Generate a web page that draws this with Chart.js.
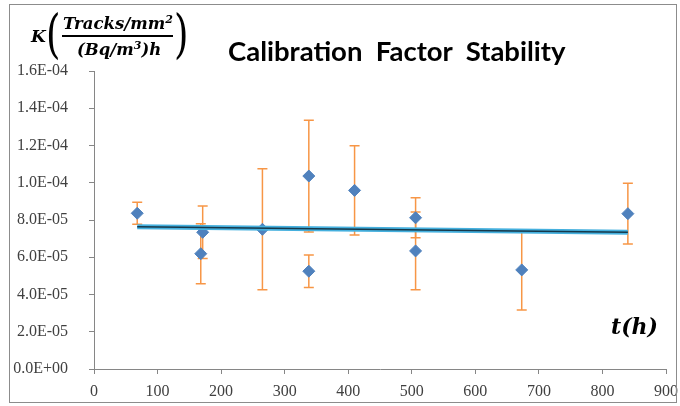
<!DOCTYPE html>
<html><head><meta charset="utf-8">
<script src="https://cdn.jsdelivr.net/npm/chart.js@4"></script>
<style>
html,body{margin:0;padding:0;background:#fff;}
#wrap{position:relative;width:680px;height:406px;overflow:hidden;}
canvas{position:absolute;left:0;top:0;}
.m{position:absolute;font-family:"DejaVu Serif",serif;font-weight:bold;font-style:italic;color:#000;white-space:nowrap;line-height:1;}
.p{position:absolute;font-family:"DejaVu Serif",serif;font-weight:normal;color:#000;line-height:1;}
#title{position:absolute;left:228px;top:37px;font-family:Lato,"Open Sans",sans-serif;font-weight:bold;font-size:27.5px;white-space:pre;color:#000;line-height:1;}
</style></head><body>
<div id="wrap">
<canvas id="c" width="680" height="406"></canvas>
<div id="title">Calibration  Factor  Stability</div>
<div class="m" style="left:31px;top:28px;font-size:17px;">K</div>
<div class="p" style="left:46px;top:7px;font-size:53px;transform:scaleX(0.7);transform-origin:left top;">(</div>
<div class="m" style="left:63px;top:14px;font-size:16.5px;">Tracks/mm<sup style="font-size:11px;vertical-align:6px;">2</sup></div>
<div style="position:absolute;left:62px;top:35px;width:111px;height:1.5px;background:#000;"></div>
<div class="m" style="left:77px;top:40px;font-size:16.5px;">(Bq/m<sup style="font-size:11px;vertical-align:6px;">3</sup>)h</div>
<div class="p" style="left:174px;top:7px;font-size:53px;transform:scaleX(0.7);transform-origin:left top;">)</div>
<div class="m" style="left:611px;top:315px;font-size:22px;">t(h)</div>
</div>
<script>
// ---- data ----
const timesH  = [68, 171, 168, 265, 338, 338, 410, 506, 506, 673, 840];
const kValues = [8.36e-5, 7.34e-5, 6.19e-5, 7.50e-5, 1.036e-4, 5.25e-5, 9.59e-5, 8.12e-5, 6.34e-5, 5.32e-5, 8.34e-5];
const kErrors = [0.59e-5, 1.41e-5, 1.61e-5, 3.25e-5, 3.0e-5, 0.87e-5, 2.4e-5, 1.07e-5, 2.09e-5, 2.15e-5, 1.63e-5];
const trendT  = [68, 840];
const trendK  = [7.64e-5, 7.34e-5];
const xTicks  = [0, 100, 200, 300, 400, 500, 600, 700, 800, 900];
const yTicks  = [0, 2e-5, 4e-5, 6e-5, 8e-5, 1e-4, 1.2e-4, 1.4e-4, 1.6e-4];

function fmtE(v){
  if (Math.abs(v) < 1e-15) return '0.0E+00';
  const [m, e] = v.toExponential(1).split('e');
  const n = parseInt(e, 10);
  return m + 'E' + (n < 0 ? '-' : '+') + String(Math.abs(n)).padStart(2, '0');
}

const errorBars = {
  id: 'errorBars',
  beforeDatasetsDraw(chart){
    const {ctx, scales:{x, y}} = chart;
    ctx.save();
    ctx.strokeStyle = '#F79646';
    ctx.lineWidth = 1.5;
    timesH.forEach((t, i) => {
      const px = x.getPixelForValue(t);
      const top = y.getPixelForValue(kValues[i] + kErrors[i]);
      const bot = y.getPixelForValue(kValues[i] - kErrors[i]);
      ctx.beginPath();
      ctx.moveTo(px, top); ctx.lineTo(px, bot);
      ctx.moveTo(px - 5, top); ctx.lineTo(px + 5, top);
      ctx.moveTo(px - 5, bot); ctx.lineTo(px + 5, bot);
      ctx.stroke();
    });
    ctx.restore();
  }
};
const frame = {
  id: 'frame',
  afterDraw(chart){
    const ctx = chart.ctx;
    ctx.save();
    ctx.strokeStyle = '#8c8c8c';
    ctx.lineWidth = 1;
    ctx.strokeRect(9.5, 4.5, 667, 398);
    ctx.restore();
  }
};

function build(){
  const tickFont = {family: "'Liberation Serif', 'Times New Roman', serif", size: 16};
  new Chart(document.getElementById('c'), {
    type: 'scatter',
    data: {
      datasets: [
        {label: 'trend-core', data: trendT.map((t, i) => ({x: t, y: trendK[i]})), showLine: true,
         borderColor: '#16384a', borderWidth: 1.5, pointRadius: 0, order: 0},
        {label: 'trend', data: trendT.map((t, i) => ({x: t, y: trendK[i]})), showLine: true,
         borderColor: '#45b0de', borderWidth: 5, pointRadius: 0, order: 1},
        {label: 'K', data: timesH.map((t, i) => ({x: t, y: kValues[i]})),
         pointStyle: 'rectRot', pointRadius: 6, backgroundColor: '#4F81BD', borderColor: '#4F81BD', borderWidth: 1, order: 2}
      ]
    },
    options: {
      responsive: false,
      animation: false,
      layout: {padding: {left: 0, right: 14, top: 71, bottom: 0}},
      plugins: {legend: {display: false}, tooltip: {enabled: false}, title: {display: false}},
      scales: {
        x: {
          type: 'linear', min: 0, max: 900,
          afterBuildTicks(s){ s.ticks = xTicks.map(v => ({value: v})); },
          afterFit(s){ s.height = 37; s.paddingRight = 10; s.paddingLeft = 0; },
          grid: {display: true, drawOnChartArea: false, drawTicks: true, tickLength: 5, color: '#868686'},
          border: {display: true, color: '#868686'},
          ticks: {font: tickFont, color: '#404040', padding: 8}
        },
        y: {
          type: 'linear', min: 0, max: 1.6e-4,
          afterBuildTicks(s){ s.ticks = yTicks.map(v => ({value: v})); },
          afterFit(s){ s.width = 94; s.paddingTop = 0; s.paddingBottom = 0; },
          grid: {display: true, drawOnChartArea: false, drawTicks: true, tickLength: 5, color: '#868686'},
          border: {display: true, color: '#868686'},
          ticks: {font: tickFont, color: '#404040', padding: 21, callback: v => fmtE(v)}
        }
      }
    },
    plugins: [errorBars, frame]
  });
}
if (document.fonts && document.fonts.load) {
  document.fonts.load("16px 'Liberation Serif'").then(build, build);
} else { build(); }
</script>
</body></html>
